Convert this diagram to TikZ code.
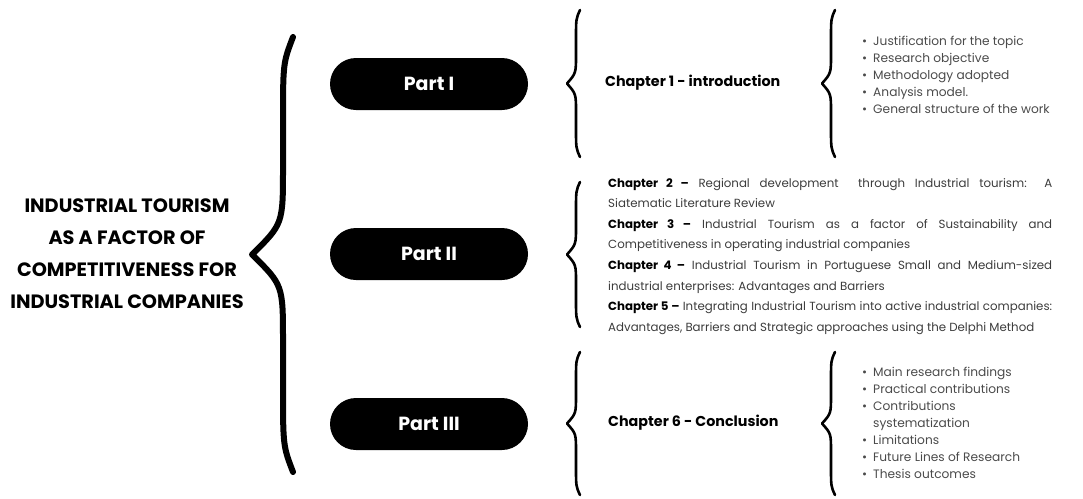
\documentclass[tikz,border=0pt]{standalone}
\usepackage{fontspec}
\setmainfont{Poppins}
\usetikzlibrary{positioning}

\definecolor{bodygray}{HTML}{3C3C3C}
\definecolor{listgray}{HTML}{4A4A4A}

% curly brace: end x, line x, tip x, top y, bottom y
\newcommand{\curlybrace}[6][]{%
  \pgfmathsetmacro{\bym}{(#5+#6)/2}%
  \pgfmathsetmacro{\bhh}{#6-#5}%
  \draw[bracestyle, #1] (#2,#5) .. controls (#3,{#5+0.06*\bhh}) .. (#3,{#5+0.2*\bhh})
    -- (#3,{\bym-0.2*\bhh}) .. controls (#3,{\bym-0.07*\bhh}) .. (#4,\bym)
    .. controls (#3,{\bym+0.07*\bhh}) .. (#3,{\bym+0.2*\bhh})
    -- (#3,{#6-0.2*\bhh}) .. controls (#3,{#6-0.06*\bhh}) .. (#2,#6);}

\begin{document}
\begin{tikzpicture}[x=1pt, y=-1pt,
    bracestyle/.style={line width=2.6pt, line cap=round, line join=round},
    title/.style={align=center, font=\fontsize{19.3}{32}\selectfont\bfseries},
    part/.style={fill=black, rounded corners=26pt, minimum width=198pt, minimum height=52pt,
      text=white, font=\fontsize{19}{22}\selectfont\bfseries},
    chap/.style={anchor=west, inner sep=0pt, font=\fontsize{14.3}{16}\selectfont\bfseries},
    chapters/.style={anchor=north west, inner sep=0pt, text width=444pt, align=justify,
      text=bodygray, font=\fontsize{11.8}{20.6}\selectfont},
    bullets/.style={anchor=west, inner sep=0pt, text=listgray, font=\fontsize{12.2}{17}\selectfont}]
  \useasboundingbox (0,0) rectangle (1083,498);

  % Topic
  \node[title] (topic) at (127,254) {INDUSTRIAL TOURISM\\AS A FACTOR OF\\COMPETITIVENESS FOR\\INDUSTRIAL COMPANIES};
  \curlybrace[line width=6pt]{293}{283}{252}{37}{472}

  % Parts
  \node[part] (part1) at (429,84) {Part I};
  \node[part] (part2) at (429,254) {Part II};
  \node[part] (part3) at (429,424) {Part III};

  % Part I
  \curlybrace{580}{576}{567}{10}{157}
  \node[chap] (chap1) at (605,83) {Chapter 1 - introduction};
  \curlybrace{835}{831}{822}{10}{157}
  \node[bullets] (list1) at (862,76) {%
    \begin{tabular}{@{}l@{\hspace{6pt}}l@{}}
      \textbullet & Justification for the topic\\
      \textbullet & Research objective\\
      \textbullet & Methodology adopted\\
      \textbullet & Analysis model.\\
      \textbullet & General structure of the work
    \end{tabular}};

  % Part II
  \curlybrace{580}{576}{567}{182}{327}
  \node[chapters] (chap25) at (608,178) {%
    \textbf{\color{black}Chapter 2 –} Regional development \ through Industrial tourism: A\linebreak
    Siatematic Literature Review\\[0pt]
    \textbf{\color{black}Chapter 3 –} Industrial Tourism as a factor of Sustainability and\linebreak
    Competitiveness in operating industrial companies\\[0pt]
    \textbf{\color{black}Chapter 4 –} Industrial Tourism in Portuguese Small and Medium-sized\linebreak
    industrial enterprises: Advantages and Barriers\\[0pt]
    \textbf{\color{black}Chapter 5 –} Integrating Industrial Tourism into active industrial companies:\linebreak
    Advantages, Barriers and Strategic approaches using the Delphi Method};

  % Part III
  \curlybrace{580}{576}{567}{352}{495}
  \node[chap] (chap6) at (608,423) {Chapter 6 - Conclusion};
  \curlybrace{835}{831}{822}{352}{495}
  \node[bullets] (list3) at (862,424) {%
    \begin{tabular}{@{}l@{\hspace{6pt}}l@{}}
      \textbullet & Main research findings\\
      \textbullet & Practical contributions\\
      \textbullet & Contributions\\
                  & systematization\\
      \textbullet & Limitations\\
      \textbullet & Future Lines of Research\\
      \textbullet & Thesis outcomes
    \end{tabular}};
\end{tikzpicture}
\end{document}
